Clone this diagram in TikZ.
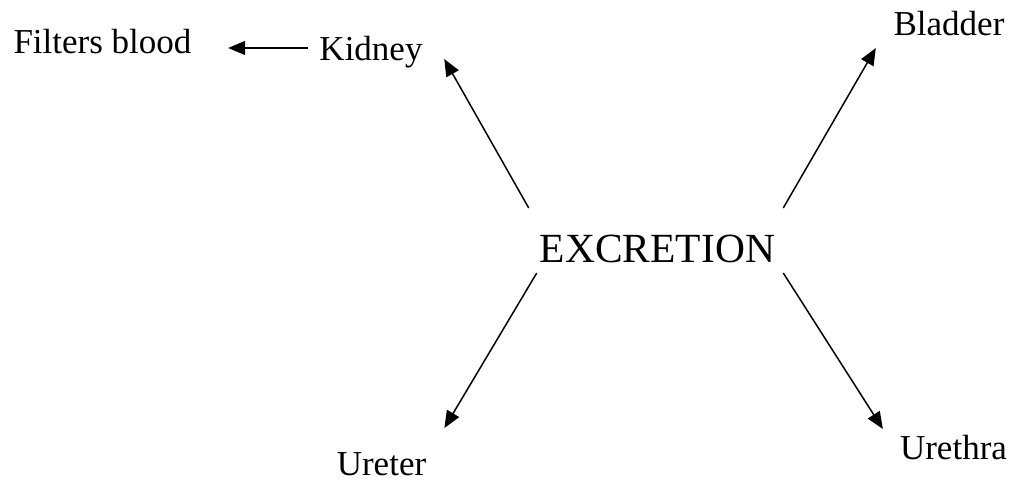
\documentclass[tikz,border=0pt]{standalone}
\usepackage{fontspec}
\setmainfont{Liberation Serif}
\usetikzlibrary{arrows.meta}
\begin{document}
\begin{tikzpicture}[x=1pt,y=1pt,
  label/.style={inner sep=0pt, anchor=base, font=\fontsize{35}{40}\selectfont},
  hub/.style={inner sep=0pt, anchor=base, font=\fontsize{41.5}{48}\selectfont},
  link/.style={line width=1.5pt, -{Triangle[length=17pt,width=14pt]}}]
  \useasboundingbox (0,0) rectangle (1014,482);
  % central topic and its four organs
  \node[hub]   (exc)  at (657.5,219) {EXCRETION};
  \node[label] (kid)  at (371,421)   {Kidney};
  \node[label] (filt) at (102.5,428) {Filters blood};
  \node[label] (bla)  at (949,446)   {Bladder};
  \node[label] (ure)  at (381.5,7)   {Ureter};
  \node[label] (uth)  at (953.5,23)  {Urethra};
  % connectors
  \draw[link] ([shift={(-11,55)}]exc.base west) -- ([shift={(21.5,2)}]kid.base east);
  \draw[link] ([shift={(8,55)}]exc.base east) -- ([shift={(-17.6,-12)}]bla.base west);
  \draw[link] ([shift={(-3,-10)}]exc.base west) -- ([shift={(18,47)}]ure.base east);
  \draw[link] ([shift={(8,-10)}]exc.base east) -- ([shift={(-17,30)}]uth.base west);
  \draw[link] ([shift={(-11.5,13)}]kid.base west) -- ([shift={(36.5,6)}]filt.base east);
\end{tikzpicture}
\end{document}
